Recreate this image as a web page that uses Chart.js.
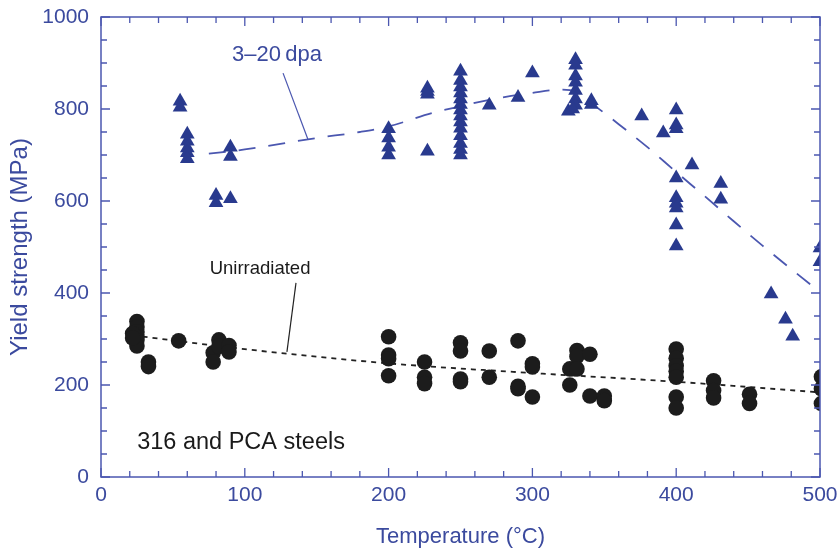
<!DOCTYPE html>
<html>
<head>
<meta charset="utf-8">
<script src="https://cdn.jsdelivr.net/npm/chart.js@4"></script>
<style>
  html, body { margin: 0; padding: 0; background: #fff; }
  #wrap { width: 838px; height: 550px; }
</style>
</head>
<body>
<div id="wrap"><canvas id="chart" width="838" height="550"></canvas></div>
<script>
// irradiated (3-20 dpa) points
const dpaTemp = [
  55, 55,
  60, 60, 60, 60, 60,
  80, 80,
  90, 90, 90,
  200, 200, 200, 200,
  227, 227, 227, 227,
  250, 250, 250, 250, 250, 250, 250, 250, 250, 250, 250, 250, 250, 250,
  270, 290, 300,
  330, 330, 330, 330, 330, 330, 330, 325, 328,
  341, 341,
  376, 391,
  400, 400, 400, 400, 400, 400, 400, 400, 400,
  411, 431, 431,
  466, 476, 481,
  500, 500
];
const dpaYield = [
  817, 804,
  745, 730, 715, 705, 692,
  612, 596,
  717, 697, 605,
  757, 737, 717, 700,
  845, 838, 832, 708,
  882, 862, 848, 835, 822, 810, 798, 785, 772, 758, 742, 725, 712, 700,
  808, 825, 878,
  907, 895, 872, 858, 840, 822, 808, 795, 800,
  818, 810,
  785, 748,
  798, 765, 757, 650, 607, 595, 585, 548, 502,
  678, 638, 604,
  398, 343, 306,
  498, 468
];

// unirradiated points
const unirrTemp = [
  25, 25, 25, 25, 25, 25, 22, 22,
  33, 33,
  54,
  78, 78, 82, 82,
  89, 89,
  200, 200, 200, 200,
  225, 225, 225,
  250, 250, 250, 250,
  270, 270,
  290, 290, 290,
  300, 300, 300,
  326, 326,
  331, 331, 331,
  340, 340,
  350, 350,
  400, 400, 400, 400, 400, 400, 400,
  426, 426, 426,
  451, 451,
  501, 501, 501
];
const unirrYield = [
  338, 326, 315, 305, 298, 285, 312, 302,
  250, 240,
  296,
  270, 250, 298, 284,
  286, 272,
  305, 265, 257, 220,
  250, 217, 203,
  292, 274, 213, 207,
  274, 217,
  296, 197, 192,
  246, 239, 174,
  235, 200,
  275, 262, 235,
  267, 176,
  176, 166,
  278, 258, 242, 230, 217, 174, 150,
  209, 188, 172,
  180, 160,
  218, 192, 160
];

// hand-drawn trend lines
const dpaFitTemp = [75, 100, 150, 180, 200, 230, 250, 270, 300, 320, 330, 340, 360, 380, 400, 420, 440, 460, 480, 500];
const dpaFitYield = [703, 712, 737, 750, 762, 791, 806, 820, 835, 842, 838, 815, 767, 717, 663, 610, 556, 503, 452, 402];
const unirrFitTemp = [22, 100, 200, 300, 400, 500];
const unirrFitYield = [308, 278, 247, 226, 207, 184];

const axisBlue = "#4b57b0";
const textBlue = "#3b4a9e";
const markBlue = "#293a8e";
const font = "'Liberation Sans', Arial, sans-serif";

function toPoints(xs, ys) {
  return xs.map((x, i) => ({ x: x, y: ys[i] }));
}

// box frame with inward ticks on all four sides
const framePlugin = {
  id: "frame",
  afterDraw(chart) {
    const { ctx, chartArea: a, scales } = chart;
    const xs = scales.x;
    const ys = scales.y;
    ctx.save();
    ctx.strokeStyle = axisBlue;
    ctx.lineWidth = 1.5;
    ctx.strokeRect(a.left, a.top, a.right - a.left, a.bottom - a.top);
    ctx.lineWidth = 1.3;
    ctx.beginPath();
    for (let v = 0; v <= 500; v += 20) {
      const px = xs.getPixelForValue(v);
      const len = v % 100 === 0 ? 9 : 6;
      ctx.moveTo(px, a.bottom);
      ctx.lineTo(px, a.bottom - len);
      ctx.moveTo(px, a.top);
      ctx.lineTo(px, a.top + len);
    }
    for (let v = 0; v <= 1000; v += 50) {
      const py = ys.getPixelForValue(v);
      const len = v % 200 === 0 ? 9 : 6;
      ctx.moveTo(a.left, py);
      ctx.lineTo(a.left + len, py);
      ctx.moveTo(a.right, py);
      ctx.lineTo(a.right - len, py);
    }
    ctx.stroke();
    ctx.restore();
  },
};

// text labels and leader lines, placed in data coordinates
const notes = [
  { text: "3\u201320\u2009dpa", x: 122.4, y: 917, color: textBlue, size: 22, from: [126.6, 878], to: [144, 733] },
  { text: "Unirradiated", x: 110.6, y: 452, color: "#1a1a1a", size: 18.5, from: [135.6, 422], to: [129.3, 272] },
  { text: "316 and PCA steels", x: 97.4, y: 76, color: "#1a1a1a", size: 23.5 },
];

const notesPlugin = {
  id: "notes",
  afterDatasetsDraw(chart) {
    const { ctx, scales } = chart;
    const xs = scales.x;
    const ys = scales.y;
    ctx.save();
    notes.forEach((n) => {
      if (n.from) {
        ctx.strokeStyle = n.color === textBlue ? axisBlue : "#222";
        ctx.lineWidth = 1.2;
        ctx.beginPath();
        ctx.moveTo(xs.getPixelForValue(n.from[0]), ys.getPixelForValue(n.from[1]));
        ctx.lineTo(xs.getPixelForValue(n.to[0]), ys.getPixelForValue(n.to[1]));
        ctx.stroke();
      }
      ctx.fillStyle = n.color;
      ctx.font = n.size + "px " + font;
      ctx.textAlign = "center";
      ctx.textBaseline = "middle";
      ctx.fillText(n.text, xs.getPixelForValue(n.x), ys.getPixelForValue(n.y));
    });
    ctx.restore();
  },
};

new Chart(document.getElementById("chart"), {
  type: "scatter",
  data: {
    datasets: [
      {
        label: "3-20 dpa",
        data: toPoints(dpaTemp, dpaYield),
        pointStyle: "triangle",
        pointRadius: 8.5,
        backgroundColor: markBlue,
        borderColor: markBlue,
        borderWidth: 0,
        order: 1,
      },
      {
        label: "Unirradiated",
        data: toPoints(unirrTemp, unirrYield),
        pointStyle: "circle",
        pointRadius: 7.8,
        backgroundColor: "#1c1c1c",
        borderColor: "#1c1c1c",
        borderWidth: 0,
        order: 1,
      },
      {
        type: "line",
        label: "3-20 dpa trend",
        data: toPoints(dpaFitTemp, dpaFitYield),
        borderColor: axisBlue,
        borderWidth: 1.8,
        borderDash: [17, 13],
        cubicInterpolationMode: "monotone",
        pointRadius: 0,
        fill: false,
        order: 2,
      },
      {
        type: "line",
        label: "Unirradiated trend",
        data: toPoints(unirrFitTemp, unirrFitYield),
        borderColor: "#222",
        borderWidth: 1.8,
        borderDash: [5, 5],
        cubicInterpolationMode: "monotone",
        pointRadius: 0,
        fill: false,
        order: 2,
      },
    ],
  },
  options: {
    responsive: false,
    animation: false,
    devicePixelRatio: 1,
    layout: { autoPadding: false, padding: { top: 17, right: 18, left: 0, bottom: 0 } },
    plugins: {
      legend: { display: false },
      tooltip: { enabled: false },
    },
    scales: {
      x: {
        type: "linear",
        min: 0,
        max: 500,
        // fixed box size, and no extra room for the end labels
        afterFit: (scale) => {
          scale.height = 73;
          scale.paddingLeft = 0;
          scale.paddingRight = 0;
        },
        grid: { display: false, drawTicks: false },
        border: { display: false },
        ticks: {
          stepSize: 100,
          padding: 6,
          color: textBlue,
          font: { family: font, size: 21 },
          maxRotation: 0,
          callback: (v) => String(v),
        },
        title: {
          display: true,
          text: "Temperature (\u00B0C)",
          color: textBlue,
          font: { family: font, size: 22 },
          padding: { top: 0, bottom: 0 },
        },
      },
      y: {
        type: "linear",
        min: 0,
        max: 1000,
        afterFit: (scale) => {
          scale.width = 101;
          scale.paddingTop = 0;
          scale.paddingBottom = 0;
        },
        grid: { display: false, drawTicks: false },
        border: { display: false },
        ticks: {
          stepSize: 200,
          padding: 12,
          color: textBlue,
          font: { family: font, size: 21 },
          callback: (v) => String(v),
        },
        title: {
          display: true,
          text: "Yield strength (MPa)",
          color: textBlue,
          font: { family: font, size: 24 },
          padding: { top: 6, bottom: 0 },
        },
      },
    },
  },
  plugins: [framePlugin, notesPlugin],
});
</script>
</body>
</html>
